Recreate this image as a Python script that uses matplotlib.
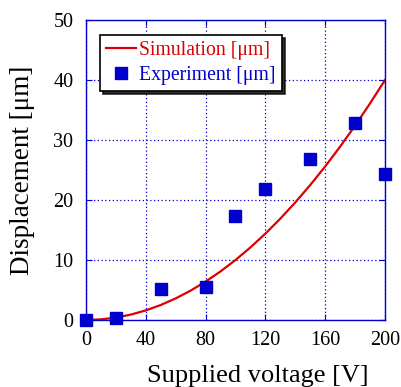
import matplotlib
matplotlib.use("Agg")
import matplotlib.pyplot as plt

# simulation curve
sim_voltage = [0, 10, 20, 30, 40, 50, 60, 70, 80, 90, 100, 110, 120, 130, 140, 150, 160, 170, 180, 190, 200]
sim_disp = [0, 0.1, 0.4, 0.9, 1.6, 2.5, 3.6, 4.9, 6.4, 8.1, 10.0, 12.1, 14.4, 16.9, 19.6, 22.5, 25.6, 28.9, 32.4, 36.1, 40.0]

# measured points
exp_voltage = [0, 20, 50, 80, 100, 120, 150, 180, 200]
exp_disp = [0.0, 0.3, 5.1, 5.5, 17.3, 21.9, 26.8, 32.9, 24.4]

xticks = [0, 40, 80, 120, 160, 200]
yticks = [0, 10, 20, 30, 40, 50]

plt.rcParams['font.family'] = ['Liberation Serif', 'DejaVu Serif']

fig = plt.figure(figsize=(4.02, 3.87), dpi=100)
ax = fig.add_axes([86 / 402, 1 - 320 / 387, 299 / 402, 300 / 387])

ax.plot(sim_voltage, sim_disp, color='#dd0000', lw=1.6, label='Simulation [\u03bcm]')
ax.plot(exp_voltage, exp_disp, 's', color='#0000cc', ms=8.5, clip_on=False, zorder=5,
        label='Experiment [\u03bcm]')

ax.set_xlim(0, 200)
ax.set_ylim(0, 50)
ax.set_xticks(xticks)
ax.set_yticks(yticks)
ax.grid(True, color='#0000cc', ls=(0, (1, 2)), lw=0.9)
for s in ax.spines.values():
    s.set_color('#0000cc')
    s.set_linewidth(1.0)
ax.tick_params(direction='in', color='#0000cc', labelsize=14.5, length=4,
               top=True, right=True)
ax.tick_params(axis='x', pad=8)
ax.tick_params(axis='y', pad=9)

ax.set_xlabel('Supplied voltage [V]', fontsize=19)
ax.xaxis.set_label_coords(0.575, -0.15)
ax.set_ylabel('Displacement [\u03bcm]', fontsize=19.5)
ax.yaxis.set_label_coords(-0.17, 0.5)

leg = ax.legend(loc='upper left', bbox_to_anchor=(0.047, 0.95), fontsize=14.2,
                fancybox=False, shadow={'color': 'black', 'alpha': 0.8}, framealpha=1,
                edgecolor='black', handlelength=1.5, handletextpad=0.2,
                borderpad=0.3, labelspacing=0.3, borderaxespad=0)
leg.get_frame().set_linewidth(1.2)
for t, c in zip(leg.get_texts(), ['#dd0000', '#0000cc']):
    t.set_color(c)

fig.savefig('out.png', dpi=100)
